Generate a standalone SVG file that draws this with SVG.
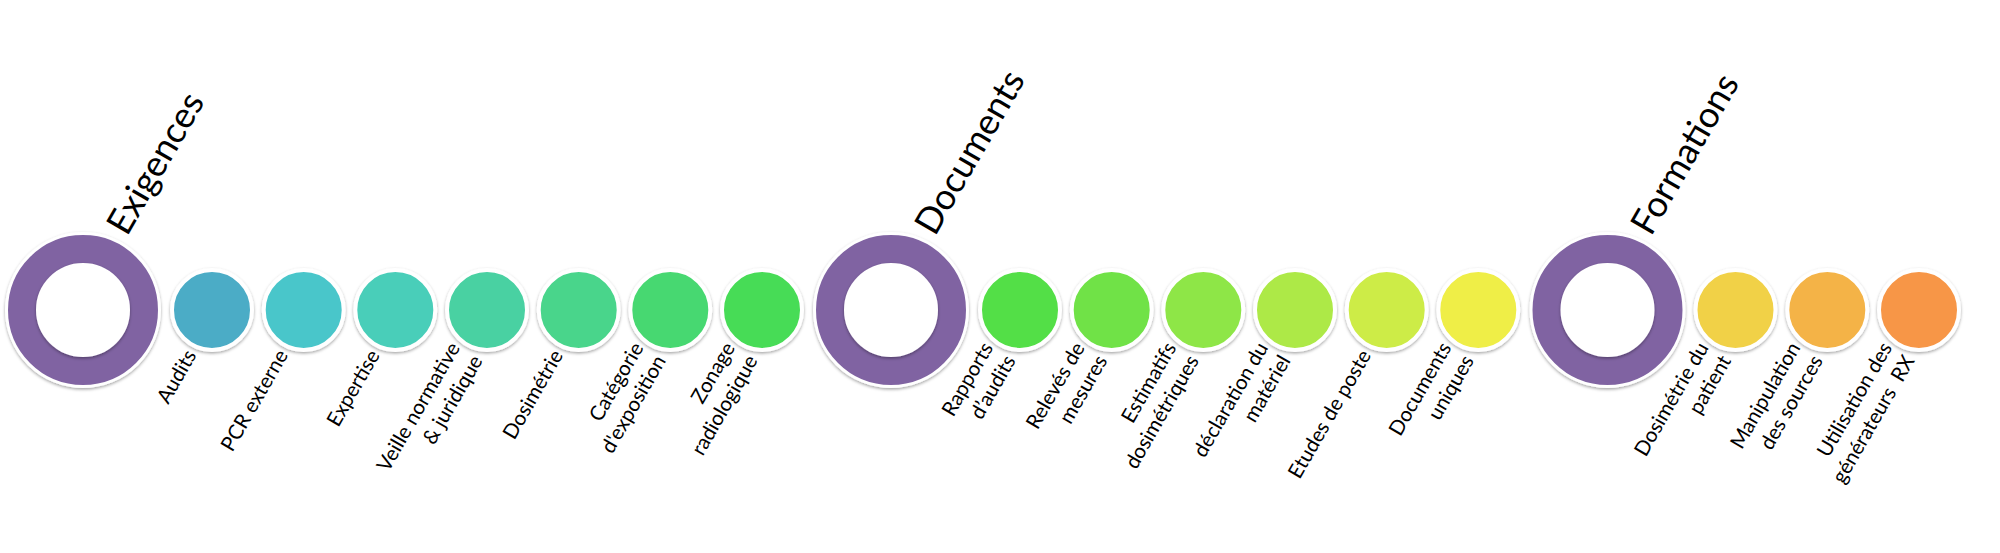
<svg xmlns="http://www.w3.org/2000/svg" width="2000" height="553" viewBox="0 0 2000 553">
<defs>
<filter id="sh" x="-20%" y="-20%" width="140%" height="150%">
<feDropShadow dx="0" dy="1.5" stdDeviation="1.6" flood-color="#000" flood-opacity="0.35"/>
</filter>
</defs>
<style>
.dot{stroke:#fff;stroke-width:4;filter:url(#sh)}
.ring{fill:#8064A2;stroke:#fff;stroke-width:3;filter:url(#sh)}
.hole{fill:#fff;stroke:#fff;stroke-width:2;filter:url(#sh)}
.lbl{font-family:Lato,"Liberation Sans",sans-serif;font-size:20.5px;fill:#000;text-anchor:end}
.ttl{font-family:Lato,"Liberation Sans",sans-serif;font-size:36px;fill:#000}
</style>
<rect width="2000" height="553" fill="#fff"/>
<g id="connectors"/>

<g id="exigences">
<circle class="ring" cx="83" cy="310" r="76.5"/>
<circle class="hole" cx="83" cy="310" r="46"/>
<text class="ttl" transform="translate(127,237) rotate(-60)">Exigences</text>
</g>
<g id="audits">
<circle class="dot" cx="212" cy="310" r="40" fill="#4BACC6"/>
<text class="lbl" transform="translate(197,355) rotate(-60)">Audits</text>
</g>
<g id="pcr-externe">
<circle class="dot" cx="303.7" cy="310" r="40" fill="#4AC6CA"/>
<text class="lbl" transform="translate(288.7,355) rotate(-60)">PCR externe</text>
</g>
<g id="expertise">
<circle class="dot" cx="395.3" cy="310" r="40" fill="#49CEB9"/>
<text class="lbl" transform="translate(380.3,355) rotate(-60)">Expertise</text>
</g>
<g id="veille">
<circle class="dot" cx="487" cy="310" r="40" fill="#48D1A2"/>
<text class="lbl" transform="translate(472,354) rotate(-60)"><tspan x="0" y="-13">Veille normative</tspan><tspan x="0" y="13">&amp; juridique</tspan></text>
</g>
<g id="dosimetrie">
<circle class="dot" cx="578.7" cy="310" r="40" fill="#48D58B"/>
<text class="lbl" transform="translate(563.7,355) rotate(-60)">Dosimétrie</text>
</g>
<g id="categorie">
<circle class="dot" cx="670.3" cy="310" r="40" fill="#47D871"/>
<text class="lbl" transform="translate(655.3,354) rotate(-60)"><tspan x="0" y="-13">Catégorie</tspan><tspan x="0" y="13">d'exposition</tspan></text>
</g>
<g id="zonage">
<circle class="dot" cx="762" cy="310" r="40" fill="#47DC56"/>
<text class="lbl" transform="translate(747,354) rotate(-60)"><tspan x="0" y="-13">Zonage</tspan><tspan x="0" y="13">radiologique</tspan></text>
</g>

<g id="documents">
<circle class="ring" cx="891" cy="310" r="76.5"/>
<circle class="hole" cx="891" cy="310" r="46"/>
<text class="ttl" transform="translate(935,237) rotate(-60)">Documents</text>
</g>
<g id="rapports">
<circle class="dot" cx="1020" cy="310" r="40" fill="#53DF46"/>
<text class="lbl" transform="translate(1005,354) rotate(-60)"><tspan x="0" y="-13">Rapports</tspan><tspan x="0" y="13">d’audits</tspan></text>
</g>
<g id="releves">
<circle class="dot" cx="1111.7" cy="310" r="40" fill="#6FE246"/>
<text class="lbl" transform="translate(1096.7,354) rotate(-60)"><tspan x="0" y="-13">Relevés de</tspan><tspan x="0" y="13">mesures</tspan></text>
</g>
<g id="estimatifs">
<circle class="dot" cx="1203.3" cy="310" r="40" fill="#8EE646"/>
<text class="lbl" transform="translate(1188.3,354) rotate(-60)"><tspan x="0" y="-13">Estimatifs</tspan><tspan x="0" y="13">dosimétriques</tspan></text>
</g>
<g id="declaration">
<circle class="dot" cx="1295" cy="310" r="40" fill="#ADE946"/>
<text class="lbl" transform="translate(1280,354) rotate(-60)"><tspan x="0" y="-13">déclaration du</tspan><tspan x="0" y="13">matériel</tspan></text>
</g>
<g id="etudes">
<circle class="dot" cx="1386.7" cy="310" r="40" fill="#CDEC46"/>
<text class="lbl" transform="translate(1371.7,355) rotate(-60)">Etudes de poste</text>
</g>
<g id="documents-uniques">
<circle class="dot" cx="1478.3" cy="310" r="40" fill="#EFEE46"/>
<text class="lbl" transform="translate(1463.3,354) rotate(-60)"><tspan x="0" y="-13">Documents</tspan><tspan x="0" y="13">uniques</tspan></text>
</g>

<g id="formations">
<circle class="ring" cx="1607.5" cy="310" r="76.5"/>
<circle class="hole" cx="1607.5" cy="310" r="46"/>
<text class="ttl" transform="translate(1651,237) rotate(-60)">Formations</text>
</g>
<g id="dosimetrie-patient">
<circle class="dot" cx="1735.5" cy="310" r="40" fill="#F1D146"/>
<text class="lbl" transform="translate(1720.5,354) rotate(-60)"><tspan x="0" y="-13">Dosimétrie du</tspan><tspan x="0" y="13">patient</tspan></text>
</g>
<g id="manipulation">
<circle class="dot" cx="1827.3" cy="310" r="40" fill="#F4B346"/>
<text class="lbl" transform="translate(1812.3,354) rotate(-60)"><tspan x="0" y="-13">Manipulation</tspan><tspan x="0" y="13">des sources</tspan></text>
</g>
<g id="utilisation">
<circle class="dot" cx="1919" cy="310" r="40" fill="#F79646"/>
<text class="lbl" transform="translate(1904,354) rotate(-60)"><tspan x="0" y="-13">Utilisation des</tspan><tspan x="0" y="13">générateurs&#160; RX</tspan></text>
</g>
</svg>
